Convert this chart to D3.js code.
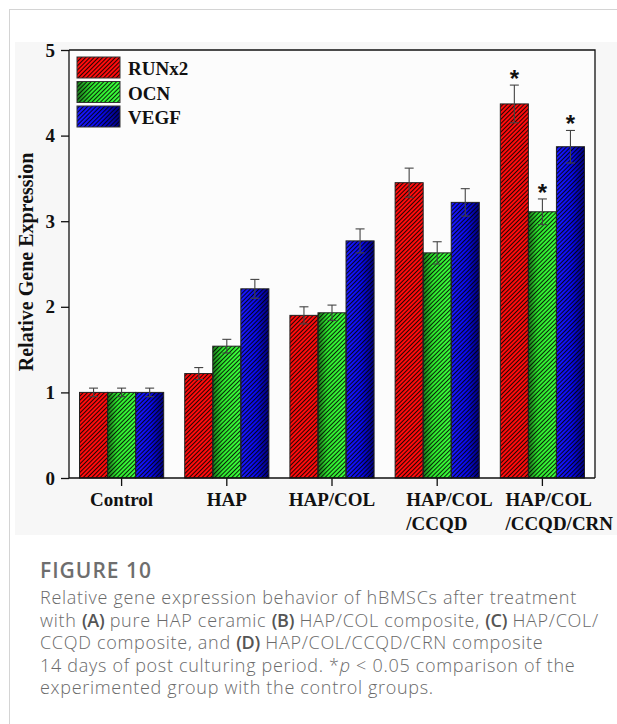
<!DOCTYPE html>
<html>
<head>
<meta charset="utf-8">
<script src="https://cdn.jsdelivr.net/npm/d3@7"></script>
<style>
  body { margin: 0; background: #fff; }
  svg { display: block; }
  .axis text { font-family: "Liberation Serif", "Times New Roman", serif; font-weight: bold; font-size: 19px; fill: #111; }
  .axis path, .axis line { stroke: #111; stroke-width: 1.3; }
  .cap { font-family: "Open Sans", sans-serif; fill: #6a6a6a; font-size: 18px; font-weight: 300; letter-spacing: 0.7px; }
</style>
</head>
<body>
<div id="chart"></div>
<script>
// categories and series
var groups = ['Control', 'HAP', 'HAP/COL', 'HAP/COL/CCQD', 'HAP/COL/CCQD/CRN'];
var groupLabels = [['Control'], ['HAP'], ['HAP/COL'], ['HAP/COL', '/CCQD'], ['HAP/COL', '/CCQD/CRN']];
var seriesNames = ['RUNx2', 'OCN', 'VEGF'];
var runx2 = [1.00, 1.22, 1.90, 3.45, 4.37];
var runx2Err = [0.05, 0.07, 0.10, 0.17, 0.22];
var ocn = [1.00, 1.54, 1.93, 2.63, 3.11];
var ocnErr = [0.05, 0.08, 0.09, 0.13, 0.15];
var vegf = [1.00, 2.21, 2.77, 3.22, 3.87];
var vegfErr = [0.05, 0.11, 0.14, 0.16, 0.19];
var signif = [false, false, false, false, true];
var yTicks = [0, 1, 2, 3, 4, 5];

var W = 617, H = 724;
var pL = 69, pR = 595, pT = 50, pB = 478;

var svg = d3.select('#chart').append('svg')
    .attr('width', W)
    .attr('height', H);

// card frame + figure background
svg.append('rect').attr('x', 9.5).attr('y', 9.5).attr('width', W + 20).attr('height', H + 20)
    .attr('fill', '#fff').attr('stroke', '#d4d4d4');
svg.append('rect').attr('x', 15).attr('y', 42).attr('width', W - 15).attr('height', 493)
    .attr('fill', '#f7f7f7');
svg.append('rect').attr('x', pL).attr('y', pT).attr('width', pR - pL).attr('height', pB - pT)
    .attr('fill', '#fcfcfc');

var defs = svg.append('defs');

var hatch = defs.append('pattern')
    .attr('id', 'hatch')
    .attr('patternUnits', 'userSpaceOnUse')
    .attr('width', 3).attr('height', 3)
    .attr('patternTransform', 'rotate(45)');
hatch.append('line')
    .attr('x1', 0.5).attr('y1', 0).attr('x2', 0.5).attr('y2', 3)
    .attr('stroke', '#000').attr('stroke-width', 0.85);

var grads = [
  [[0, '#ff0c0c'], [1, '#ff0c0c']],
  [[0, '#1c7a1c'], [0.35, '#2ee82e'], [1, '#3cff3c']],
  [[0, '#1a1aff'], [0.55, '#0a0ae8'], [1, '#00007a']]
];
grads.forEach(function(stops, i) {
  var g = defs.append('linearGradient').attr('id', 'grad' + i)
      .attr('x1', 0).attr('x2', 1).attr('y1', 0).attr('y2', 0);
  stops.forEach(function(s) {
    g.append('stop').attr('offset', s[0]).attr('stop-color', s[1]);
  });
});

var x = d3.scaleBand()
    .domain(groups)
    .range([pL, pR])
    .paddingInner(0.2)
    .paddingOuter(0.1);

var xs = d3.scaleBand()
    .domain(seriesNames)
    .range([0, x.bandwidth()]);

var y = d3.scaleLinear()
    .domain([0, 5])
    .range([pB, pT]);

var series = [
  { name: 'RUNx2', vals: runx2, err: runx2Err },
  { name: 'OCN', vals: ocn, err: ocnErr },
  { name: 'VEGF', vals: vegf, err: vegfErr }
];

var bars = [];
series.forEach(function(s, si) {
  groups.forEach(function(g, gi) {
    bars.push({ g: g, s: s.name, si: si, v: s.vals[gi], e: s.err[gi], sig: signif[gi] });
  });
});

var barG = svg.append('g');

barG.selectAll('rect.fill').data(bars).enter().append('rect')
    .attr('x', d => x(d.g) + xs(d.s))
    .attr('y', d => y(d.v))
    .attr('width', xs.bandwidth())
    .attr('height', d => y(0) - y(d.v))
    .attr('fill', d => 'url(#grad' + d.si + ')');

barG.selectAll('rect.hatch').data(bars).enter().append('rect')
    .attr('x', d => x(d.g) + xs(d.s))
    .attr('y', d => y(d.v))
    .attr('width', xs.bandwidth())
    .attr('height', d => y(0) - y(d.v))
    .attr('fill', 'url(#hatch)')
    .attr('stroke', '#222')
    .attr('stroke-width', 1);

// error bars
var eb = svg.append('g').attr('stroke', '#444').attr('stroke-width', 1.1);
bars.forEach(function(d) {
  var cx = x(d.g) + xs(d.s) + xs.bandwidth() / 2;
  eb.append('line').attr('x1', cx).attr('x2', cx).attr('y1', y(d.v + d.e)).attr('y2', y(d.v - d.e));
  eb.append('line').attr('x1', cx - 4.5).attr('x2', cx + 4.5).attr('y1', y(d.v + d.e)).attr('y2', y(d.v + d.e));
  eb.append('line').attr('x1', cx - 4.5).attr('x2', cx + 4.5).attr('y1', y(d.v - d.e)).attr('y2', y(d.v - d.e));
});

// significance marks
svg.append('g').selectAll('text').data(bars.filter(d => d.sig)).enter().append('text')
    .attr('x', d => x(d.g) + xs(d.s) + xs.bandwidth() / 2)
    .attr('y', d => y(d.v + d.e) + 2)
    .attr('text-anchor', 'middle')
    .style('font', 'bold 24px "Liberation Sans", Arial, sans-serif')
    .attr('fill', '#111')
    .text('*');

// frame (top + right)
svg.append('path')
    .attr('d', 'M' + pL + ',' + pT + 'H' + pR + 'V' + pB)
    .attr('fill', 'none').attr('stroke', '#111').attr('stroke-width', 1.3);

// y axis
var yAxis = svg.append('g').attr('class', 'axis')
    .attr('transform', 'translate(' + pL + ',0)')
    .call(d3.axisLeft(y).tickValues(yTicks).tickSize(8).tickPadding(6).tickFormat(d3.format('d')));
yAxis.select('.domain').attr('d', 'M0,' + pT + 'V' + pB);

// x axis
var xAxis = svg.append('g').attr('class', 'axis')
    .attr('transform', 'translate(0,' + pB + ')')
    .call(d3.axisBottom(x).tickSize(8).tickFormat(''));
xAxis.select('.domain').attr('d', 'M' + pL + ',0H' + pR);

var lblOffset = { 'HAP/COL/CCQD': -31, 'HAP/COL/CCQD/CRN': -37 };
var lbl = svg.append('g').attr('class', 'axis');
groups.forEach(function(g, i) {
  var lines = groupLabels[i];
  var t = lbl.append('text').attr('y', 506);
  if (lines.length === 1) {
    t.attr('x', x(g) + x.bandwidth() / 2).attr('text-anchor', 'middle').text(lines[0]);
  } else {
    var x0 = x(g) + x.bandwidth() / 2 + lblOffset[g];
    lines.forEach(function(l, j) {
      t.append('tspan').attr('x', x0).attr('dy', j ? 24 : 0).text(l);
    });
  }
});

// y label
svg.append('text')
    .attr('transform', 'translate(33,' + ((pT + pB) / 2 - 2) + ') rotate(-90)')
    .attr('text-anchor', 'middle')
    .style('font', 'bold 20px "Liberation Serif", "Times New Roman", serif')
    .attr('fill', '#111')
    .text('Relative Gene Expression');

// legend
var leg = svg.append('g').attr('transform', 'translate(77,57)');
seriesNames.forEach(function(n, i) {
  leg.append('rect').attr('x', 0).attr('y', i * 24.5).attr('width', 43).attr('height', 21)
      .attr('fill', 'url(#grad' + i + ')');
  leg.append('rect').attr('x', 0).attr('y', i * 24.5).attr('width', 43).attr('height', 21)
      .attr('fill', 'url(#hatch)').attr('stroke', '#333');
  leg.append('text').attr('x', 51).attr('y', i * 24.5 + 18)
      .style('font', 'bold 19px "Liberation Serif", "Times New Roman", serif')
      .attr('fill', '#111')
      .text(n);
});

// caption
svg.append('text').attr('x', 40).attr('y', 578)
    .style('font', '600 21px "Open Sans", sans-serif').style('letter-spacing', '1px')
    .attr('fill', '#6e6e6e')
    .text('FIGURE 10');

var capLines = [
  [['Relative gene expression behavior of hBMSCs after treatment', 0]],
  [['with ', 0], ['(A)', 1], [' pure HAP ceramic ', 0], ['(B)', 1], [' HAP/COL composite, ', 0], ['(C)', 1], [' HAP/COL/', 0]],
  [['CCQD composite, and ', 0], ['(D)', 1], [' HAP/COL/CCQD/CRN composite', 0]],
  [['14 days of post culturing period. *', 0], ['p', 2], [' < 0.05 comparison of the', 0]],
  [['experimented group with the control groups.', 0]]
];
capLines.forEach(function(parts, i) {
  var t = svg.append('text').attr('class', 'cap').attr('x', 40).attr('y', 604 + i * 22.5);
  parts.forEach(function(p) {
    var s = t.append('tspan').text(p[0]);
    if (p[1] === 1) s.attr('font-weight', 600).attr('fill', '#555').style('letter-spacing', '-0.3px');
    if (p[1] === 2) s.attr('font-style', 'italic');
  });
});
</script>
</body>
</html>
